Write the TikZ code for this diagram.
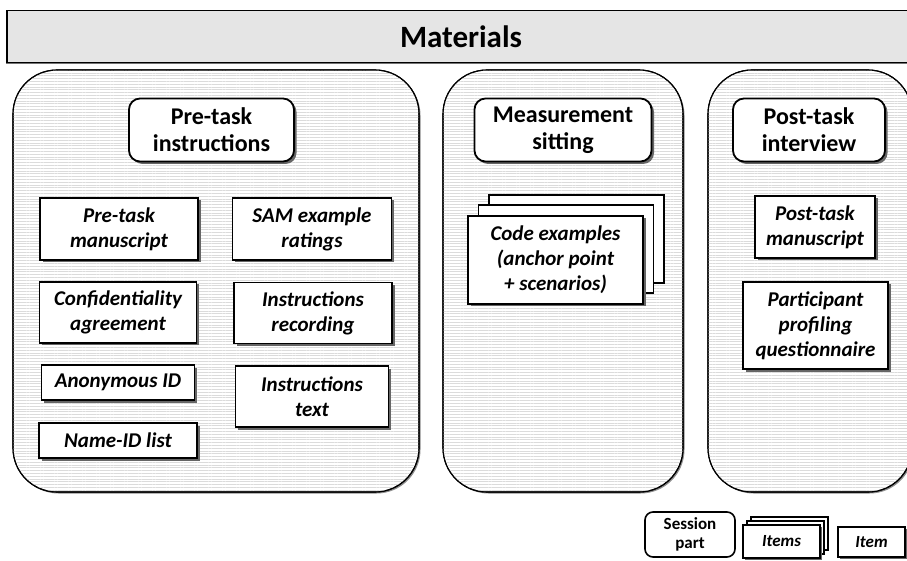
\documentclass[tikz,border=0pt]{standalone}
\usepackage{fontspec}
\setmainfont{Carlito}
\usetikzlibrary{shadows,patterns.meta}
\begin{document}
\begin{tikzpicture}[x=1pt,y=1pt,
  bar/.style={draw=black,line width=1.6pt,fill=black!10,
     drop shadow={shadow xshift=-1.5pt,shadow yshift=-1.5pt,fill=black!55,opacity=1}},
  group/.style={draw=black,line width=1.1pt,rounded corners=44pt,
     pattern={Lines[angle=0,distance=2.8pt,line width=0.35pt]},pattern color=black!14},
  groupshadow/.style={fill=black!45,rounded corners=44pt},
  parthead/.style={draw=black,line width=1.8pt,fill=white,rounded corners=11pt,
     align=center,inner sep=0pt,font=\bfseries\fontsize{24}{27}\selectfont,
     drop shadow={shadow xshift=2.5pt,shadow yshift=-2.5pt,fill=black!60,opacity=1}},
  itembox/.style={draw=black,line width=1.8pt,fill=white,
     align=center,inner sep=0pt,font=\bfseries\itshape\fontsize{21}{25}\selectfont,
     drop shadow={shadow xshift=2.5pt,shadow yshift=-2.5pt,fill=black!60,opacity=1}},
  backbox/.style={draw=black,line width=1.8pt,fill=white,inner sep=0pt},
  legpart/.style={draw=black,line width=1.6pt,fill=white,rounded corners=8pt,
     align=center,inner sep=0pt,font=\bfseries\fontsize{17}{19.5}\selectfont},
  legitem/.style={draw=black,line width=1.6pt,fill=white,
     align=center,inner sep=0pt,font=\bfseries\itshape\fontsize{17}{19.5}\selectfont,
     drop shadow={shadow xshift=1.8pt,shadow yshift=-1.8pt,fill=black!60,opacity=1}},
  legback/.style={draw=black,line width=1.6pt,fill=white,inner sep=0pt}
]
\useasboundingbox (0,0) rectangle (907,560);
\fill[white] (0,0) rectangle (907,560);

% header bar
\node[bar,minimum width=908pt,minimum height=52pt,inner sep=0pt,
  font=\bfseries\fontsize{31}{35}\selectfont] (mat) at (461,523.5) {Materials};

% groups
\fill[groupshadow] (14.5,66.5) rectangle (420.5,488.5);
\fill[groupshadow] (444.5,66.5) rectangle (684.5,488.5);
\fill[groupshadow] (709.5,66.5) rectangle (913.5,488.5);
\draw[group,fill=white] (13,68) rectangle (419,490);
\draw[group] (13,68) rectangle (419,490);
\draw[group,fill=white] (443,68) rectangle (683,490);
\draw[group] (443,68) rectangle (683,490);
\draw[group,fill=white] (708,68) rectangle (912,490);
\draw[group] (708,68) rectangle (912,490);

% part headings
\node[parthead,minimum width=165pt,minimum height=63pt] (pre) at (211.5,430) {Pre-task\\instructions};
\node[parthead,minimum width=177pt,minimum height=63pt] (meas) at (563,430) {Measurement\\sitting};
\node[parthead,minimum width=152pt,minimum height=63pt] (post) at (809,430) {Post-task\\interview};

% pre-task items
\node[itembox,minimum width=158pt,minimum height=62pt] (pm) at (119,331) {Pre-task\\manuscript};
\node[itembox,minimum width=159pt,minimum height=62pt] (sam) at (312,331) {SAM example\\ratings};
\node[itembox,minimum width=157pt,minimum height=61pt] (conf) at (118,247.5) {Confidentiality\\agreement};
\node[itembox,minimum width=158pt,minimum height=61pt] (irec) at (313,247) {Instructions\\recording};
\node[itembox,minimum width=153pt,minimum height=35pt] (anon) at (118,177.5) {Anonymous ID};
\node[itembox,minimum width=153pt,minimum height=61pt] (itext) at (312,163.5) {Instructions\\text};
\node[itembox,minimum width=158pt,minimum height=35pt] (nameid) at (118,119.5) {Name-ID list};

% measurement items (stack)
\node[backbox,minimum width=175pt,minimum height=88pt] (codeb2) at (576.5,321) {};
\node[backbox,minimum width=175pt,minimum height=88pt] (codeb1) at (566,311) {};
\node[itembox,minimum width=175pt,minimum height=88pt] (code) at (555.5,300) {Code examples\\(anchor point\\+ scenarios)};

% post-task items
\node[itembox,minimum width=120pt,minimum height=62pt] (ptm) at (815,333) {Post-task\\manuscript};
\node[itembox,minimum width=145pt,minimum height=87pt] (ppq) at (815.5,234.5) {Participant\\profiling\\questionnaire};

% legend
\node[legpart,minimum width=90pt,minimum height=45pt] (lsess) at (690,25.5) {Session\\part};
\node[legback,minimum width=77pt,minimum height=33pt] (litb2) at (789.5,26.5) {};
\node[legback,minimum width=77pt,minimum height=33pt] (litb1) at (785.5,22.5) {};
\node[legitem,minimum width=77pt,minimum height=33pt] (litems) at (781.5,18.5) {Items};
\node[legitem,minimum width=67pt,minimum height=30pt] (litem) at (871.5,18) {Item};
\end{tikzpicture}
\end{document}
